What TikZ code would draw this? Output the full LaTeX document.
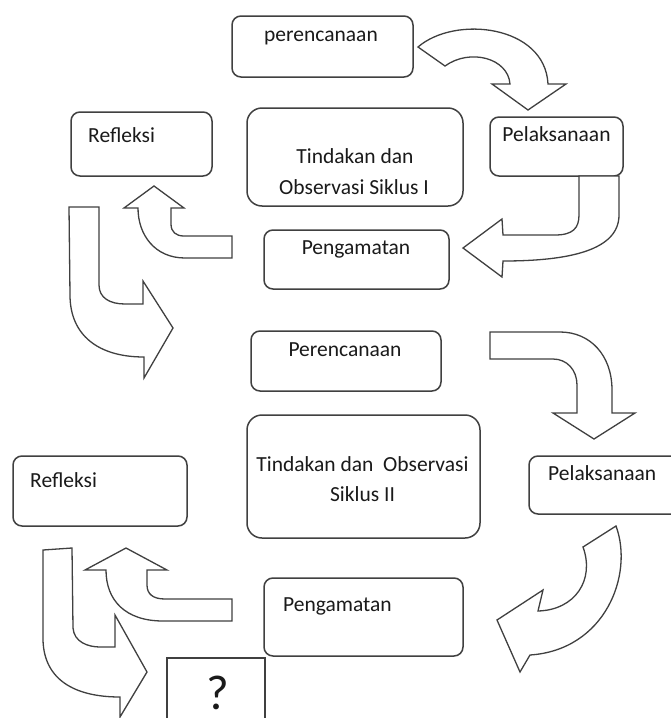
\documentclass[tikz,border=0pt]{standalone}
\usepackage{fontspec}
\setmainfont{Carlito}
\definecolor{linec}{HTML}{404040}
\definecolor{txtc}{HTML}{1A1A1A}
\tikzset{
  boxshape/.style={draw=linec, line width=1.5pt, rounded corners=9pt, inner sep=0pt, outer sep=0pt},
  bigbox/.style={boxshape, rounded corners=15pt},
  arr/.style={draw=linec, line width=1.3pt, fill=white, line join=miter},
  txt/.style={font=\fontsize{21.5}{26}\selectfont, inner sep=0pt, text=txtc},
}
\begin{document}
\begin{tikzpicture}[x=1pt,y=-1pt]
\useasboundingbox (0,0) rectangle (671,718);
\clip (0,0) rectangle (671,718);
\fill[white] (0,0) rectangle (671,718);

% boxes
\node[boxshape, minimum width=181pt, minimum height=61pt] (p1) at (322.5,46.5) {};
\node[bigbox, minimum width=216pt, minimum height=98pt] (t1) at (355,157) {};
\node[boxshape, minimum width=133pt, minimum height=59pt] (pel1) at (556.5,146.5) {};
\node[boxshape, minimum width=141pt, minimum height=64pt] (ref1) at (141.5,144) {};
\node[boxshape, minimum width=185pt, minimum height=59pt] (pg1) at (356.5,259.5) {};
\node[boxshape, minimum width=190pt, minimum height=60pt] (per2) at (346,361) {};
\node[bigbox, minimum width=233pt, minimum height=123pt] (t2) at (363.5,476.5) {};
\node[boxshape, minimum width=171pt, minimum height=58pt] (pel2) at (614.5,485) {};
\node[boxshape, minimum width=174pt, minimum height=70pt] (ref2) at (100,491) {};
\node[boxshape, minimum width=199pt, minimum height=78pt] (pg2) at (363.5,617) {};
\draw[draw=linec, line width=1.5pt] (167,730) -- (167,658) -- (265,658) -- (265,730);

% texts
\node[txt, anchor=base] (tp1) at (321,41) {perencanaan};
\node[txt, anchor=base] (tpel1) at (556.5,141) {Pelaksanaan};
\node[txt, anchor=base] (tt1a) at (355,163) {Tindakan dan};
\node[txt, anchor=base] (tt1b) at (354,194) {Observasi Siklus I};
\node[txt, anchor=base west] (tref1) at (88,142) {Refleksi};
\node[txt, anchor=base] (tpg1) at (356,254) {Pengamatan};
\node[txt, anchor=base] (tper2) at (345,356) {Perencanaan};
\node[txt, anchor=base] (tt2a) at (362.5,471) {Tindakan dan\ \ Observasi};
\node[txt, anchor=base] (tt2b) at (362.5,501) {Siklus II};
\node[txt, anchor=base west] (tpel2) at (548,480) {Pelaksanaan};
\node[txt, anchor=base west] (tref2) at (30,487) {Refleksi};
\node[txt, anchor=base west] (tpg2) at (283,611) {Pengamatan};
\node[txt, font=\fontsize{49}{54}\selectfont, anchor=base] (tq) at (218,709) {?};

% arrow A: perencanaan -> Pelaksanaan
\draw[arr] (418,47) .. controls (455,15) and (545,25) .. (548,84) -- (566,84) -- (528,110) -- (492,84) -- (510,84)
  .. controls (508,58) and (470,48) .. (445,66) -- cycle;
% arrow B: Pelaksanaan -> Pengamatan
\draw[arr] (579,176) -- (619,176) -- (619,215) .. controls (619,250) and (570,261) .. (503,261) -- (502,277) -- (463,248)
  -- (502,219) -- (503,235) -- (555,235) .. controls (573,235) and (579,228) .. (579,215) -- cycle;
% arrow C: Pengamatan -> Refleksi
\draw[arr] (232,236) -- (232,258) -- (185,258) .. controls (155,258) and (138,235) .. (138,208) -- (124,208) -- (154,186)
  -- (184,208) -- (171,208) -- (171,224) .. controls (171,232) and (176,236) .. (184,236) -- cycle;
% arrow D: Refleksi -> Perencanaan
\draw[arr] (69,207) -- (99,207) -- (99,285) .. controls (99,298) and (110,304) .. (125,304) -- (143,304) -- (143,281)
  -- (173,328) -- (144,378) -- (144,357) .. controls (98,357) and (70,335) .. (70,295) -- cycle;
% arrow E: Perencanaan -> Pelaksanaan II
\draw[arr] (490,332) -- (560,332) .. controls (590,332) and (612,355) .. (612,390) -- (612,413) -- (635,413) -- (594,439)
  -- (553,413) -- (577,413) -- (577,385) .. controls (577,370) and (567,359) .. (553,359) -- (490,359) -- cycle;
% arrow F: Pelaksanaan II -> Pengamatan II
\draw[arr] (616,526) .. controls (634,575) and (605,650) .. (530,655) -- (520,672) -- (497,620) -- (543,590) -- (538,611)
  .. controls (575,610) and (595,580) .. (583,547) -- cycle;
% arrow G: Pengamatan II -> Refleksi II
\draw[arr] (232,599) -- (232,621) -- (163,621) .. controls (125,621) and (106,600) .. (106,570) -- (85,570) -- (126,548)
  -- (167,570) -- (147,570) -- (147,585) .. controls (147,594) and (153,599) .. (165,599) -- cycle;
% arrow H: Refleksi II -> ?
\draw[arr] (43,550) -- (72,548) -- (73,628) .. controls (74,642) and (88,647) .. (100,647) -- (115,647) -- (115,615)
  -- (147,672) -- (120,717) -- (120,697) .. controls (75,697) and (44,680) .. (43,640) -- cycle;
\end{tikzpicture}
\end{document}
